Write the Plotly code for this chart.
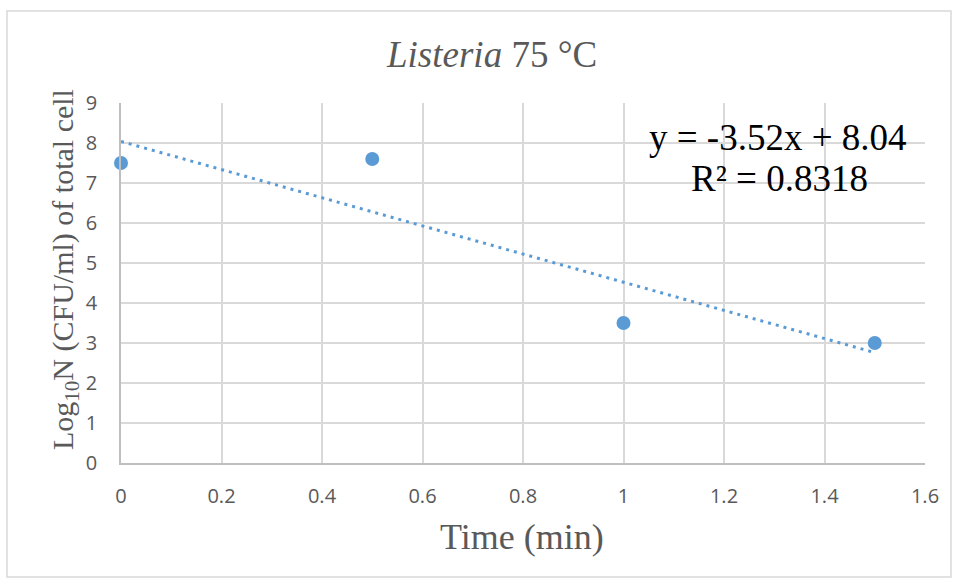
import numpy as np
import plotly.graph_objects as go

# Survival data: time (min) vs log10 count
time_min = [0, 0.5, 1, 1.5]
log_count = [7.5, 7.6, 3.5, 3.0]

x_ticks = [0, 0.2, 0.4, 0.6, 0.8, 1, 1.2, 1.4, 1.6]
x_tick_text = ["0", "0.2", "0.4", "0.6", "0.8", "1", "1.2", "1.4", "1.6"]
y_ticks = list(range(0, 10))

W, H = 958, 584
L, R, T, B = 121, 33, 103, 121

# Linear least-squares trendline
xs = np.array(time_min, dtype=float)
ys = np.array(log_count, dtype=float)
slope, intercept = np.polyfit(xs, ys, 1)
pred = slope * xs + intercept
r2 = 1 - np.sum((ys - pred) ** 2) / np.sum((ys - ys.mean()) ** 2)
trend_x = [xs.min(), xs.max()]
trend_y = [slope * v + intercept for v in trend_x]

blue = "#5B9BD5"
grey_text = "#595959"
grid = "#D9D9D9"

fig = go.Figure()
fig.add_trace(go.Scatter(
    x=trend_x, y=trend_y, mode="lines",
    line=dict(color=blue, width=3, dash="3px,5px"),
    hoverinfo="skip", showlegend=False,
))
fig.add_trace(go.Scatter(
    x=time_min, y=log_count, mode="markers",
    marker=dict(color=blue, size=14),
    cliponaxis=False, showlegend=False,
))

pw = W - L - R
ph = H - T - B

def px_x(p):
    return (p - L) / pw

def px_y(p):
    return (H - B - p) / ph

serif = "Liberation Serif, Times New Roman, serif"
sans = "Open Sans, sans-serif"

annotations = [
    dict(text="<i>Listeria</i> 75 °C", x=px_x(491), y=px_y(54), xref="paper", yref="paper",
         showarrow=False, font=dict(family=serif, size=37, color=grey_text),
         xanchor="center", yanchor="middle"),
    dict(text="Time (min)", x=px_x(522), y=px_y(537), xref="paper", yref="paper",
         showarrow=False, font=dict(family=serif, size=36, color=grey_text),
         xanchor="center", yanchor="middle"),
    dict(text="Log<sub>10</sub>N (CFU/ml) of total cell", x=px_x(65), y=px_y(270),
         xref="paper", yref="paper", textangle=-90,
         showarrow=False, font=dict(family=serif, size=30, color=grey_text),
         xanchor="center", yanchor="middle"),
    dict(text=f"y = {slope:.2f}x + {intercept:.2f}", x=px_x(778), y=px_y(137),
         xref="paper", yref="paper",
         showarrow=False, font=dict(family=serif, size=37, color="#000000"),
         xanchor="center", yanchor="middle"),
    dict(text=f"R² = {r2:.4f}", x=px_x(779), y=px_y(178),
         xref="paper", yref="paper",
         showarrow=False, font=dict(family=serif, size=37, color="#000000"),
         xanchor="center", yanchor="middle"),
]

shapes = [
    dict(type="rect", xref="paper", yref="paper",
         x0=px_x(7), x1=px_x(951), y0=px_y(577), y1=px_y(11),
         line=dict(color="#D9D9D9", width=1.5), fillcolor="rgba(0,0,0,0)", layer="below"),
]

fig.update_layout(
    width=W, height=H,
    margin=dict(l=L, r=R, t=T, b=B),
    paper_bgcolor="white", plot_bgcolor="white",
    annotations=annotations, shapes=shapes,
    xaxis=dict(
        range=[0, 1.6], tickvals=x_ticks, ticktext=x_tick_text,
        showgrid=True, gridcolor=grid, gridwidth=1.5,
        zeroline=False, showline=True, linecolor="#BFBFBF", linewidth=1.5,
        mirror=False, ticks="", ticklabelstandoff=14,
        tickfont=dict(family=sans, size=20, color=grey_text),
    ),
    yaxis=dict(
        range=[0, 9], tickvals=y_ticks,
        showgrid=True, gridcolor=grid, gridwidth=1.5,
        zeroline=False, showline=True, linecolor="#BFBFBF", linewidth=1.5,
        ticks="", ticklabelstandoff=18,
        tickfont=dict(family=sans, size=20, color=grey_text),
    ),
)

fig.write_html("out.html")
